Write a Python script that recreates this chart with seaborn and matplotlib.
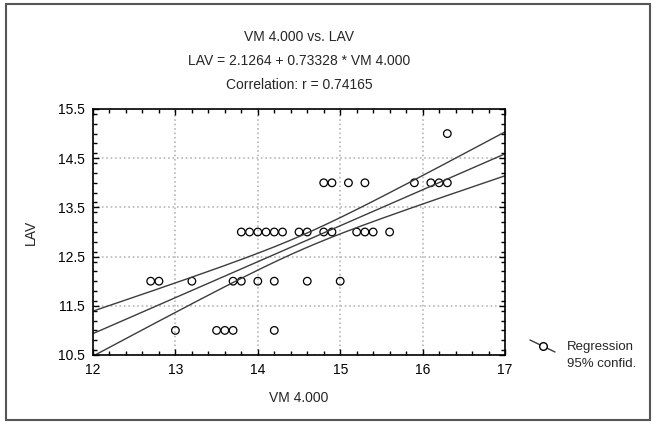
import numpy as np
import pandas as pd
import matplotlib.pyplot as plt
import seaborn as sns
from matplotlib.lines import Line2D
from matplotlib.patches import Rectangle
from matplotlib.ticker import MultipleLocator

# VM 4.000 vs LAV
vm = [12.7, 12.8, 13.2, 13.7, 13.8, 14.0, 14.2, 14.6, 15.0,
      13.0, 13.5, 13.6, 13.7, 14.2,
      13.8, 13.9, 14.0, 14.1, 14.2, 14.3, 14.5, 14.6, 14.8, 14.9, 15.2, 15.3, 15.4, 15.6,
      14.8, 14.9, 15.1, 15.3, 15.9, 16.1, 16.2, 16.3,
      16.3]
lav = [12] * 9 + [11] * 5 + [13] * 14 + [14] * 8 + [15]
# estimated number of cases hidden on each plotted circle (overlapping cases),
# chosen so the fit matches the printed equation, r and the confidence lines
n_cases = [3, 1, 1, 1, 1, 1, 2, 2, 1,
           1, 1, 1, 1, 1,
           1, 1, 1, 2, 1, 2, 2, 5, 12, 1, 2, 1, 1, 2,
           1, 1, 1, 1, 1, 1, 1, 1,
           1]

pts = pd.DataFrame({'VM 4.000': vm, 'LAV': lav})
df = pts.loc[pts.index.repeat(n_cases)].reset_index(drop=True)

sns.set_style("white")
plt.rcParams['font.family'] = ['Liberation Sans', 'DejaVu Sans']

W, H = 656, 424
fig = plt.figure(figsize=(W / 100, H / 100), dpi=100)
ax = fig.add_axes([93 / W, 1 - 355 / H, (505 - 93) / W, (355 - 109) / H])
ax.set_xlim(12, 17)
ax.set_ylim(10.5, 15.5)

line_col = '#3c3c3c'
sns.regplot(data=df, x='VM 4.000', y='LAV', ax=ax, ci=None, truncate=False,
            scatter=False, line_kws=dict(color=line_col, lw=1.0))
sns.scatterplot(data=pts, x='VM 4.000', y='LAV', ax=ax, marker='o', s=30,
                facecolors='none', edgecolor='black', linewidth=0.9)

# 95% confidence limits of the regression line
x = df['VM 4.000'].to_numpy(float)
y = df['LAV'].to_numpy(float)
n = len(x)
b, a = np.polyfit(x, y, 1)
s = np.sqrt(np.sum((y - a - b * x) ** 2) / (n - 2))
xs = np.linspace(12, 17, 200)
se = s * np.sqrt(1 / n + (xs - x.mean()) ** 2 / np.sum((x - x.mean()) ** 2))
t = 2.0
ax.plot(xs, a + b * xs + t * se, color=line_col, lw=1.0)
ax.plot(xs, a + b * xs - t * se, color=line_col, lw=1.0)

ax.xaxis.set_major_locator(MultipleLocator(1))
ax.set_yticks(np.arange(10.5, 15.6, 1.0))
ax.yaxis.set_major_formatter(plt.FuncFormatter(lambda v, p: f'{v:.1f}'))
ax.xaxis.set_minor_locator(MultipleLocator(0.2))
ax.yaxis.set_minor_locator(MultipleLocator(0.2))
ax.tick_params(which='both', direction='in', top=True, right=True, bottom=True, left=True,
               labelsize=10, colors='black', width=1)
ax.tick_params(which='major', length=4, pad=6)
ax.tick_params(which='minor', length=3)
ax.grid(True, which='major', color='#b8b8b8', linestyle=':', linewidth=1.2)
for sp in ax.spines.values():
    sp.set_color('black')
    sp.set_linewidth(1.2)

ax.set_xlabel('VM 4.000', fontsize=10, labelpad=10)
ax.set_ylabel('LAV', fontsize=10, labelpad=14)

cx = 0.5 * (93 + 505) / W
fig.text(cx, 1 - 37 / H, 'VM 4.000 vs. LAV', ha='center', va='center', fontsize=10)
fig.text(cx, 1 - 61 / H, 'LAV = 2.1264 + 0.73328 * VM 4.000', ha='center', va='center', fontsize=10)
fig.text(cx, 1 - 85 / H, 'Correlation: r = 0.74165', ha='center', va='center', fontsize=10)

# legend glyph
fig.add_artist(Line2D([530 / W, 555 / W], [1 - 340 / H, 1 - 352 / H], color=line_col, lw=1.0))
fig.add_artist(Line2D([543 / W], [1 - 346 / H], marker='o', markersize=5.5,
                      markerfacecolor='white', markeredgecolor='black', lw=0))
fig.text(567 / W, 1 - 347 / H, 'Regression', ha='left', va='center', fontsize=9.5)
fig.text(567 / W, 1 - 364 / H, '95% confid.', ha='left', va='center', fontsize=9.5)

# outer frame
fig.add_artist(Rectangle((6 / W, 4 / H), (650 - 6) / W, (420 - 4) / H, transform=fig.transFigure,
                         fill=False, edgecolor='#555555', lw=1.5))

fig.savefig('out.png', dpi=100)
